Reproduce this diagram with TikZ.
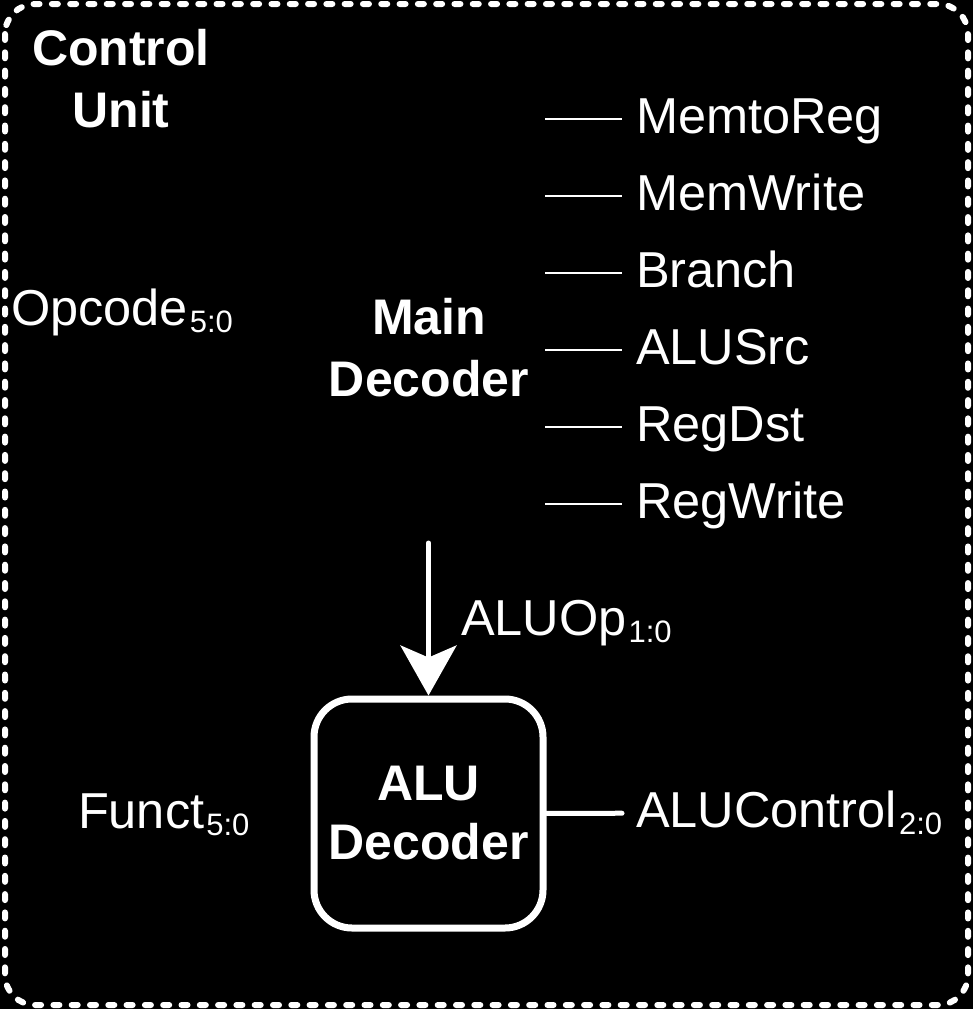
\documentclass[tikz,border=0pt]{standalone}
\usepackage{fontspec}
\setmainfont{Liberation Sans}
\usetikzlibrary{arrows.meta,positioning}

\newcommand{\bussub}[1]{\kern2pt\raisebox{-7.5pt}{\fontsize{31}{31}\selectfont #1}}

\begin{document}
\begin{tikzpicture}[x=1pt, y=-1pt]
  \tikzset{TitleStyle/.style = {text           = white,
                                font           = \fontsize{50}{62}\selectfont\bfseries,
                                align          = center,
                                inner sep      = 0pt},
           SigStyle/.style   = {text           = white,
                                font           = \fontsize{50.5}{62}\selectfont,
                                text height    = 28pt,
                                text depth     = 0pt,
                                inner sep      = 0pt,
                                outer xsep     = 14pt,
                                anchor         = west},
           BoxStyle/.style   = {draw           = white,
                                line width     = 7pt,
                                rounded corners= 38pt,
                                minimum width  = 229pt,
                                minimum height = 229pt},
           wire/.style       = {draw=white, line width=2pt},
           bus/.style        = {draw=white, line width=5pt, line cap=round}}
  \fill[black] (0,0) rectangle (973,1009);
  \useasboundingbox (0,0) rectangle (973,1009);
  %%% CADRE %%%
  \draw[white, line width=6pt, line cap=round, dash pattern=on 6pt off 12.3pt,
        rounded corners=30pt] (5,4) rectangle (968,1005);
  \node[TitleStyle] (cu) at (121,79) {Control\\Unit};
  %%% MAIN DECODER %%%
  \node[TitleStyle] (maindec) at (429,348) {Main\\Decoder};
  \node[SigStyle, anchor=base west, outer xsep=0pt] (opcode) at (11,325) {Opcode\bussub{5:0}};
  \tikzset{node distance = 77pt}
  \node[SigStyle] (memtoreg) at (622,119) {MemtoReg};
  \node[SigStyle, below=of memtoreg.west, anchor=west] (memwrite) {MemWrite};
  \node[SigStyle, below=of memwrite.west, anchor=west] (branch) {Branch};
  \node[SigStyle, below=of branch.west, anchor=west] (alusrc) {ALUSrc};
  \node[SigStyle, below=of alusrc.west, anchor=west] (regdst) {RegDst};
  \node[SigStyle, below=of regdst.west, anchor=west] (regwrite) {RegWrite};
  \coordinate[left=of memtoreg.west] (memtoregin);
  \coordinate[left=of memwrite.west] (memwritein);
  \coordinate[left=of branch.west] (branchin);
  \coordinate[left=of alusrc.west] (alusrcin);
  \coordinate[left=of regdst.west] (regdstin);
  \coordinate[left=of regwrite.west] (regwritein);
  \draw[wire] (memtoregin) -- (memtoreg);
  \draw[wire] (memwritein) -- (memwrite);
  \draw[wire] (branchin) -- (branch);
  \draw[wire] (alusrcin) -- (alusrc);
  \draw[wire] (regdstin) -- (regdst);
  \draw[wire] (regwritein) -- (regwrite);
  %%% ALU DECODER %%%
  \node[BoxStyle, TitleStyle, draw=white, font=\fontsize{50}{59}\selectfont\bfseries]
       (aludec) at (428.5,813.5) {ALU\\Decoder};
  \coordinate (aluopin) at (428.5,543);
  \draw[bus, -{Stealth[length=50pt, width=56pt, inset=12pt]}] (aluopin) -- (aludec.north);
  \node[SigStyle, anchor=base west, outer xsep=0pt] (aluop) at (461,635) {ALUOp\bussub{1:0}};
  \node[SigStyle, anchor=base west, outer xsep=0pt] (funct) at (78,828) {Funct\bussub{5:0}};
  \node[SigStyle] (aluctrl) at (622,813) {ALUControl\bussub{2:0}};
  \draw[bus] (aludec) -- (aluctrl);
\end{tikzpicture}
\end{document}
